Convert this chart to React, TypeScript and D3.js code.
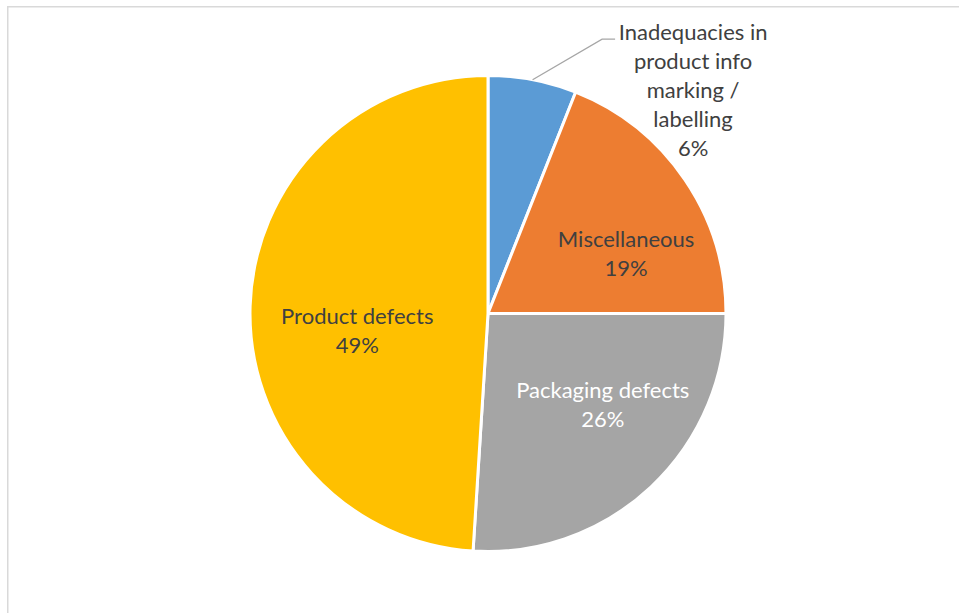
import React from "react";
import * as d3 from "d3";

const categories = [
  "Inadequacies in product info marking / labelling",
  "Miscellaneous",
  "Packaging defects",
  "Product defects",
];
const values = [6, 19, 26, 49];
const labelLines = [
  ["Inadequacies in", "product info", "marking /", "labelling", "6%"],
  ["Miscellaneous", "19%"],
  ["Packaging defects", "26%"],
  ["Product defects", "49%"],
];
const colors = ["#5B9BD5", "#ED7D31", "#A5A5A5", "#FFC000"];
const labelColors = ["#404040", "#404040", "#ffffff", "#404040"];
// nudges of label blocks relative to arc centroid (Excel best-fit placement)
const labelNudge: [number, number][] = [
  [0, 0],
  [20, 21],
  [17, -13],
  [12, 22],
];

const W = 959;
const H = 613;
const cx = 488;
const cy = 313.5;
const R = 238;
const FONT = "Lato, 'Open Sans', sans-serif";
const FS = 22;
const LH = 29;

export default function App() {
  const pie = d3
    .pie<number>()
    .sort(null)
    .value((d) => d)
    .startAngle(0)
    .endAngle(2 * Math.PI);
  const arcs = pie(values);
  const arc = d3.arc<d3.PieArcDatum<number>>().innerRadius(0).outerRadius(R);
  const labelArc = d3
    .arc<d3.PieArcDatum<number>>()
    .innerRadius(R * 0.6)
    .outerRadius(R * 0.6);

  return (
    <svg
      width={W}
      height={H}
      style={{ position: "absolute", left: 0, top: 0, display: "block" }}
    >
      <rect x={0} y={0} width={W} height={H} fill="#ffffff" />
      <path
        d={`M7.75,${H} V6.75 H${W}`}
        fill="none"
        stroke="#d9d9d9"
        strokeWidth={1.5}
      />
      <g transform={`translate(${cx},${cy})`}>
        {arcs.map((a, i) => (
          <path
            key={categories[i]}
            d={arc(a) || ""}
            fill={colors[i]}
            stroke="#ffffff"
            strokeWidth={3}
            strokeLinejoin="round"
          />
        ))}
        {arcs.map((a, i) => {
          const lines = labelLines[i];
          if (i === 0) {
            const mid = (a.startAngle + a.endAngle) / 2;
            const px = R * Math.sin(mid);
            const py = -R * Math.cos(mid);
            const ex = px + 69.5;
            const ey = py - 40.5;
            const tx = px + 160.5;
            const ty0 = py - 39.5;
            return (
              <g key={categories[i]}>
                <polyline
                  points={`${px},${py} ${ex},${ey} ${ex + 13},${ey}`}
                  fill="none"
                  stroke="#A6A6A6"
                  strokeWidth={1.3}
                />
                <text
                  textAnchor="middle"
                  fontFamily={FONT}
                  fontSize={FS}
                  fill={labelColors[i]}
                >
                  {lines.map((l, j) => (
                    <tspan key={j} x={tx} y={ty0 + j * LH}>
                      {l}
                    </tspan>
                  ))}
                </text>
              </g>
            );
          }
          const [lx, ly] = labelArc.centroid(a);
          const x = lx + labelNudge[i][0];
          const y = ly + labelNudge[i][1];
          return (
            <text
              key={categories[i]}
              textAnchor="middle"
              fontFamily={FONT}
              fontSize={FS}
              fill={labelColors[i]}
            >
              {lines.map((l, j) => (
                <tspan key={j} x={x} y={y - 7 + j * LH}>
                  {l}
                </tspan>
              ))}
            </text>
          );
        })}
      </g>
    </svg>
  );
}
